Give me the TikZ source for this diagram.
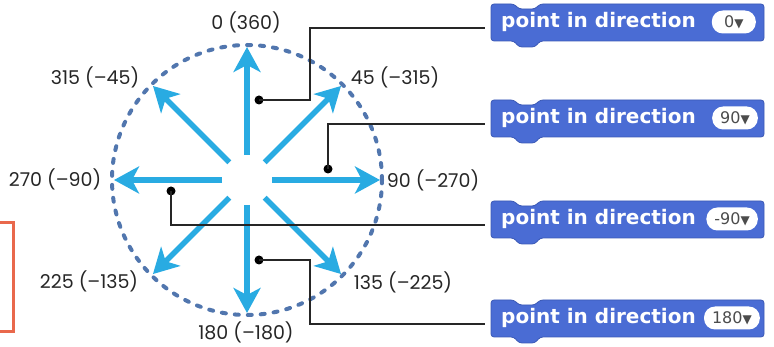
\documentclass[tikz,border=0pt]{standalone}
\usepackage{fontspec}
\setmainfont{Poppins}
\newfontfamily\blockfont{DejaVu Sans}
\usetikzlibrary{arrows.meta,calc}
\definecolor{arrowblue}{HTML}{29ABE2}
\definecolor{dialblue}{HTML}{5176AE}
\definecolor{blockblue}{HTML}{4A6CD4}
\definecolor{blockedge}{HTML}{3B59B5}
\definecolor{framecol}{HTML}{E9684C}
\newcommand\tri{{\fontsize{12}{12}\selectfont ▼}}
\tikzset{
 arr/.style={draw=arrowblue, line width=5.5pt, -{Stealth[length=25pt,width=27pt,inset=7pt]}},
 dial/.style={circle, draw=dialblue, line width=4pt, dash pattern=on 4pt off 9pt, line cap=round, minimum size=270pt, inner sep=0pt},
 lbl/.style={font=\fontsize{19}{21}\selectfont, text=black!85, inner sep=0pt},
 conn/.style={draw=black!85, line width=1.2pt},
 cdot/.style={circle, fill=black, inner sep=0pt, minimum size=9pt},
 btext/.style={font=\blockfont\bfseries\fontsize{20}{22}\selectfont, text=white, inner sep=0pt, anchor=west},
 pill/.style={fill=white, rounded corners=11pt, minimum height=23pt, minimum width=44pt, inner ysep=0pt, inner xsep=8pt, font=\blockfont\fontsize{16}{17}\selectfont, text=black!70, anchor=east},
}
\newcommand\scratchblk[4]{%
  \fill[blockblue, draw=blockedge, line width=0.8pt, rounded corners=3pt]
   (491,#2) -- (514,#2) -- (519,{#2+5}) -- (535,{#2+5}) -- (540,#2) -- (764,#2) -- (764,{#2+37}) -- (540,{#2+37}) -- (535,{#2+43}) -- (519,{#2+43}) -- (514,{#2+37}) -- (491,{#2+37}) -- cycle;
  \node[btext] (#1) at (501,{#2+18}) {point in direction};
  \node[pill] (#1v) at (#4,{#2+18}) {#3};
  \coordinate (#1w) at (485,{#2+24});
}
\begin{document}
\begin{tikzpicture}[x=1pt,y=-1pt]
\useasboundingbox (0,0) rectangle (774,347);
% partial frame at left edge
\draw[framecol, line width=3pt] (-5,222.5) -- (13,222.5) -- (13,332) -- (-5,332);
% dial
\coordinate (c) at (247,180);
\node[dial] (dialc) at (c) {};
\foreach \a in {90,45,0,-45,-90,-135,180,135}
  \draw[arr] ($(c)+(\a:25pt)$) -- ($(c)+(\a:133pt)$);
% labels
\node[lbl] (l0)   at (246,22)  {0 (360)};
\node[lbl] (l45)  at (395,77)  {45 (–315)};
\node[lbl] (l315) at (95,77)   {315 (–45)};
\node[lbl] (l270) at (55,179)  {270 (–90)};
\node[lbl] (l90)  at (433,180) {90 (–270)};
\node[lbl] (l225) at (89,281)  {225 (–135)};
\node[lbl] (l135) at (403,282) {135 (–225)};
\node[lbl] (l180) at (246,332) {180 (–180)};
% blocks
\scratchblk{b1}{4}{0\tri}{756}
\scratchblk{b2}{100}{90\tri}{758}
\scratchblk{b3}{201}{-90\tri}{758}
\scratchblk{b4}{300}{180\tri}{760}
% connectors
\node[cdot] (d1) at (259,100) {};
\node[cdot] (d2) at (328,169) {};
\node[cdot] (d3) at (171,191) {};
\node[cdot] (d4) at (259,260) {};
\draw[conn] (d1.center) -- (310,100) |- (b1w);
\draw[conn] (d2.center) |- (b2w);
\draw[conn] (d3.center) |- (b3w);
\draw[conn] (d4.center) -- (310,260) |- (b4w);
\end{tikzpicture}
\end{document}
